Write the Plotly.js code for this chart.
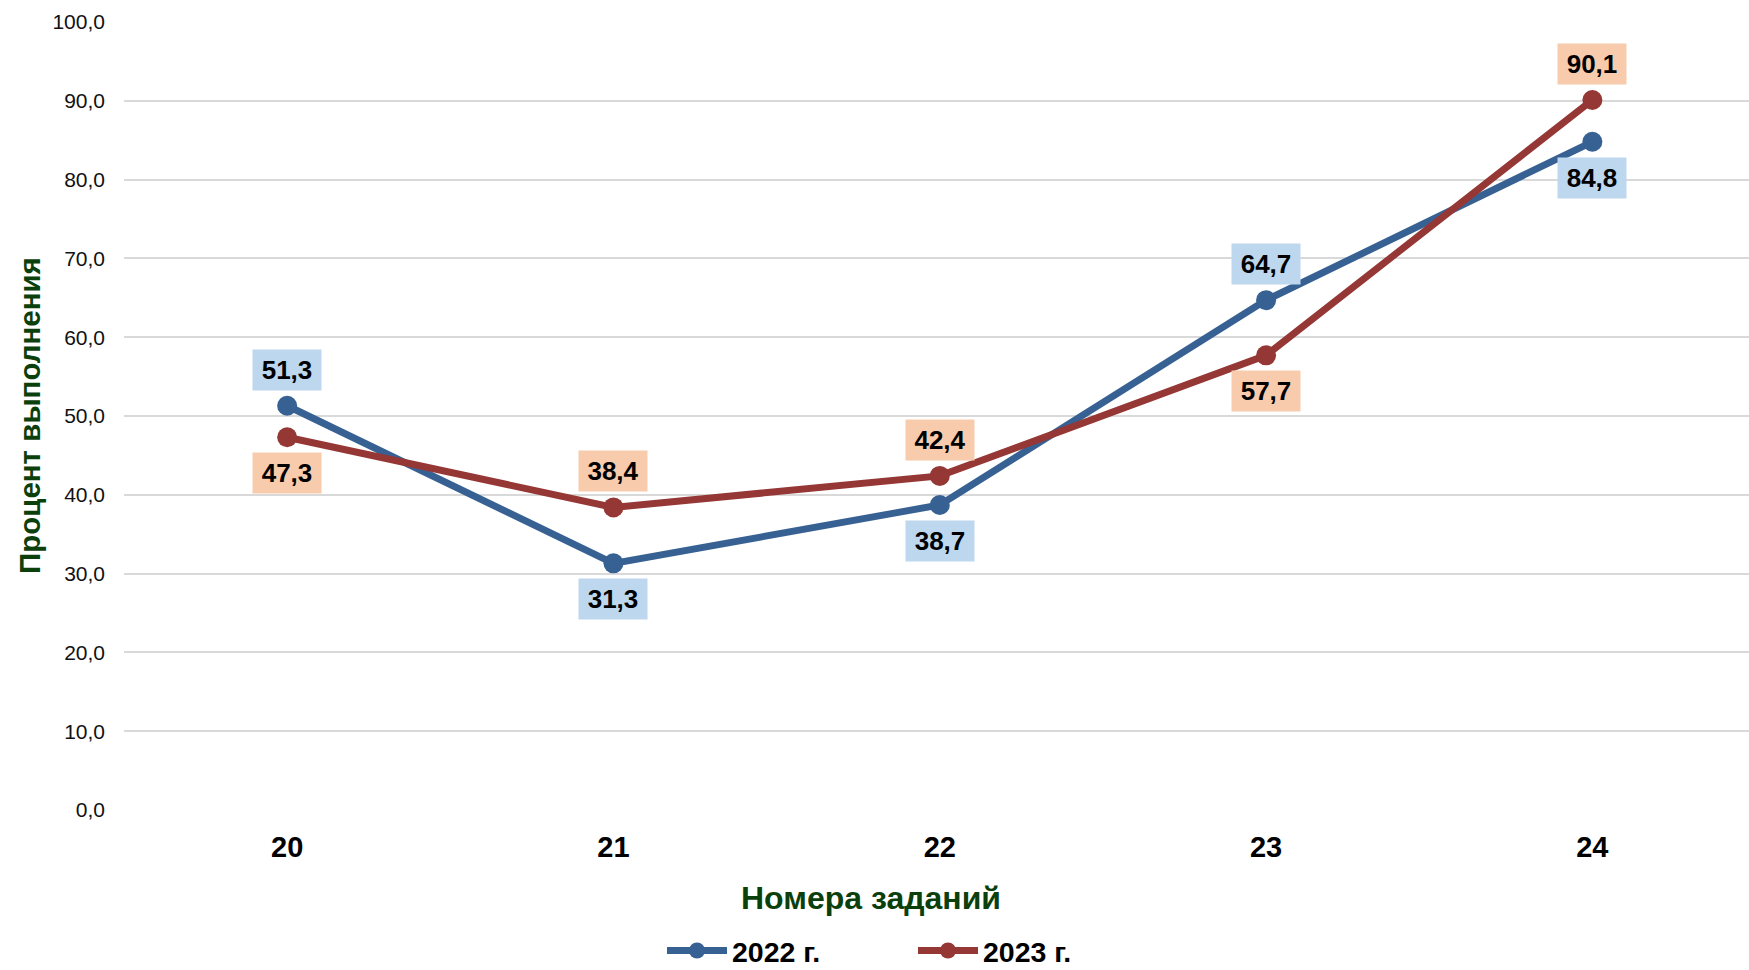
<!DOCTYPE html>
<html>
<head>
<meta charset="utf-8">
<script src="https://cdn.plot.ly/plotly-3.0.1.min.js"></script>
<style>html,body{margin:0;padding:0;background:#fff}#chart{width:1749px;height:970px}</style>
</head>
<body>
<div id="chart"></div>
<script>
const categories = ['20', '21', '22', '23', '24'];
const values2022 = [51.3, 31.3, 38.7, 64.7, 84.8];
const values2023 = [47.3, 38.4, 42.4, 57.7, 90.1];
const seriesNames = ['2022 г.', '2023 г.'];
// label placement: +1 above, -1 below
const labelSide2022 = [1, -1, -1, 1, -1];
const labelSide2023 = [-1, 1, 1, -1, 1];
const yTickVals = [0, 10, 20, 30, 40, 50, 60, 70, 80, 90, 100];

const blue = '#386193';
const red = '#953735';
const blueFill = '#bdd7ee';
const redFill = '#f8cbad';
const green = '#0b3f0c';
const fontFam = 'Liberation Sans, Arial, sans-serif';

function fmt(v){ return v.toFixed(1).replace('.', ','); }

const traces = [
  {x: categories, y: values2022, name: seriesNames[0], type: 'scatter', mode: 'lines+markers',
   line: {color: blue, width: 7}, marker: {color: blue, size: 20}},
  {x: categories, y: values2023, name: seriesNames[1], type: 'scatter', mode: 'lines+markers',
   line: {color: red, width: 7}, marker: {color: red, size: 20}}
];

const annotations = [];
function addLabels(vals, sides, fill){
  vals.forEach((v, i) => {
    annotations.push({
      x: i, y: v, xref: 'x', yref: 'y', text: '<b>' + fmt(v) + '</b>',
      showarrow: false, yshift: 36 * sides[i], width: 66, height: 38,
      bgcolor: fill, font: {family: fontFam, size: 26, color: '#000'}
    });
  });
}
addLabels(values2022, labelSide2022, blueFill);
addLabels(values2023, labelSide2023, redFill);

annotations.push({
  text: '<b>Номера заданий</b>', xref: 'paper', yref: 'paper',
  x: (871 - 124) / 1625, y: (809 - 897) / 787, xanchor: 'center', yanchor: 'middle',
  showarrow: false, font: {family: fontFam, size: 32, color: green}
});
annotations.push({
  text: '<b>Процент выполнения</b>', xref: 'paper', yref: 'paper', textangle: -90,
  x: (29 - 124) / 1625, y: 0.5, xanchor: 'center', yanchor: 'middle',
  showarrow: false, font: {family: fontFam, size: 29.5, color: green}
});

const layout = {
  width: 1749, height: 970,
  margin: {l: 124, r: 0, t: 22, b: 160, autoexpand: false},
  paper_bgcolor: '#fff', plot_bgcolor: '#fff',
  separators: ', ',
  showlegend: true,
  legend: {orientation: 'h', x: (662 - 124) / 1625, y: (970 - 951) / 970, yref: 'container',
           xanchor: 'left', yanchor: 'middle',
           font: {family: fontFam, size: 28.5, color: '#000', weight: 'bold'}, itemwidth: 60,
           entrywidth: 176, entrywidthmode: 'pixels', tracegroupgap: 0,
           bgcolor: 'rgba(0,0,0,0)'},
  xaxis: {type: 'category', range: [-0.5, 4.48], showgrid: false, zeroline: false, showline: false,
          ticks: '', ticklabelstandoff: 17,
          tickfont: {family: fontFam, size: 29, color: '#000', weight: 'bold'}},
  yaxis: {range: [0, 100], tickvals: yTickVals, tickformat: '.1f', showgrid: true, gridcolor: '#d9d9d9',
          gridwidth: 2, zeroline: false, showline: false, ticks: '', ticklabelstandoff: 18,
          tickfont: {family: fontFam, size: 21, color: '#111'}},
  annotations: annotations
};

Plotly.newPlot('chart', traces, layout, {displayModeBar: false, staticPlot: true});
</script>
</body>
</html>
